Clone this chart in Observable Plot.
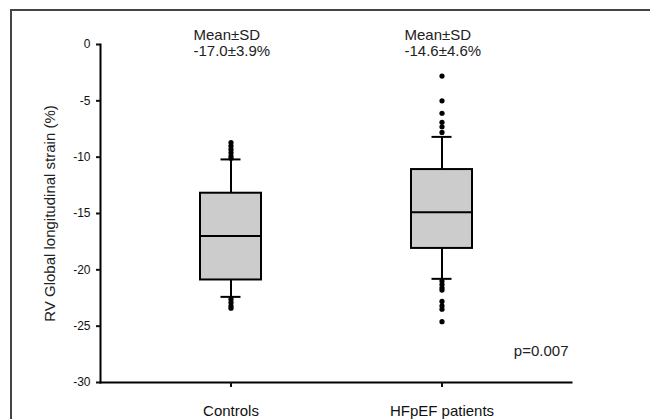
<!DOCTYPE html>
<html><head><meta charset="utf-8">
<script src="https://cdn.jsdelivr.net/npm/d3@7"></script>
<script src="https://cdn.jsdelivr.net/npm/@observablehq/plot@0.6"></script>
<style>
body{margin:0;background:#fff;}
#wrap{position:relative;width:650px;height:419px;overflow:hidden;}
#frame{position:absolute;left:10px;top:9px;width:700px;height:450px;border-top:2px solid #444;border-left:2px solid #444;pointer-events:none;}
#wrap svg{position:absolute;left:0;top:0;}
</style></head><body><div id="wrap"><div id="frame"></div></div>
<script>
const groups = ["Controls", "HFpEF patients"];
const lowerCap = [-22.4, -20.8];
const q1 = [-20.9, -18.1];
const median = [-17.0, -14.9];
const q3 = [-13.2, -11.1];
const upperCap = [-10.2, -8.2];
const meanSD = ["-17.0±3.9%", "-14.6±4.6%"];
const outliersControls = [-8.7, -9.0, -9.3, -9.6, -9.9, -10.1, -22.6, -22.9, -23.2, -23.4];
const outliersHFpEF = [-2.8, -5.0, -6.1, -6.9, -7.3, -7.8, -21.0, -21.3, -21.6, -21.8, -22.8, -23.2, -23.5, -24.6];
const yTicks = [0, -5, -10, -15, -20, -25, -30];
const yTitle = "RV Global longitudinal strain (%)";
const pValue = "p=0.007";

const boxes = groups.map((g, i) => ({
  group: g, lo: lowerCap[i], q1: q1[i], med: median[i], q3: q3[i], hi: upperCap[i],
  label: "Mean±SD\n" + meanSD[i]
}));
const outliers = [
  ...outliersControls.map(v => ({group: groups[0], v})),
  ...outliersHFpEF.map(v => ({group: groups[1], v}))
];

const chart = Plot.plot({
  width: 650, height: 419,
  marginLeft: 100, marginRight: 79, marginTop: 44, marginBottom: 37,
  style: {fontFamily: "'Liberation Sans', Arial, sans-serif", background: "transparent", color: "#111"},
  x: {type: "band", domain: groups, paddingInner: 0.712, paddingOuter: 0.467, label: null},
  y: {domain: [-30, 0], label: null},
  marks: [
    Plot.frame({anchor: "left", stroke: "#000", strokeWidth: 2}),
    Plot.frame({anchor: "bottom", stroke: "#000", strokeWidth: 2}),
    Plot.axisY({ticks: yTicks, tickFormat: d => String(d), tickSize: 4, tickPadding: 6, fontSize: 12, strokeWidth: 2, label: null}),
    Plot.axisX({tickSize: 5, tickPadding: 18, fontSize: 15, strokeWidth: 2, label: null}),
    Plot.text([yTitle], {frameAnchor: "left", textAnchor: "middle", rotate: -90, dx: -50, fontSize: 15, fill: "#222"}),
    Plot.ruleX(boxes, {x: "group", y1: "q3", y2: "hi", stroke: "#000", strokeWidth: 2}),
    Plot.ruleX(boxes, {x: "group", y1: "q1", y2: "lo", stroke: "#000", strokeWidth: 2}),
    Plot.rectY(boxes, {x: "group", y1: "q1", y2: "q3", fill: "#cccccc", stroke: "#000", strokeWidth: 2}),
    Plot.tickY(boxes, {x: "group", y: "med", stroke: "#000", strokeWidth: 2}),
    Plot.dot(outliers, {x: "group", y: "v", r: 2.6, fill: "#000", stroke: "none"}),
    Plot.tickY(boxes, {x: "group", y: "hi", insetLeft: 20.5, insetRight: 20.5, stroke: "#000", strokeWidth: 2}),
    Plot.tickY(boxes, {x: "group", y: "lo", insetLeft: 20.5, insetRight: 20.5, stroke: "#000", strokeWidth: 2}),
    Plot.text(boxes, {x: "group", frameAnchor: "top", text: "label", textAnchor: "start", dx: -37.5, dy: -2, lineAnchor: "middle", lineHeight: 1.1, fontSize: 15, fill: "#222"}),
    Plot.text([pValue], {frameAnchor: "bottom-right", textAnchor: "end", dx: -3, dy: -27, fontSize: 15, fill: "#222"})
  ]
});
document.getElementById("wrap").insertBefore(chart, document.getElementById("frame"));
</script>
</body></html>
